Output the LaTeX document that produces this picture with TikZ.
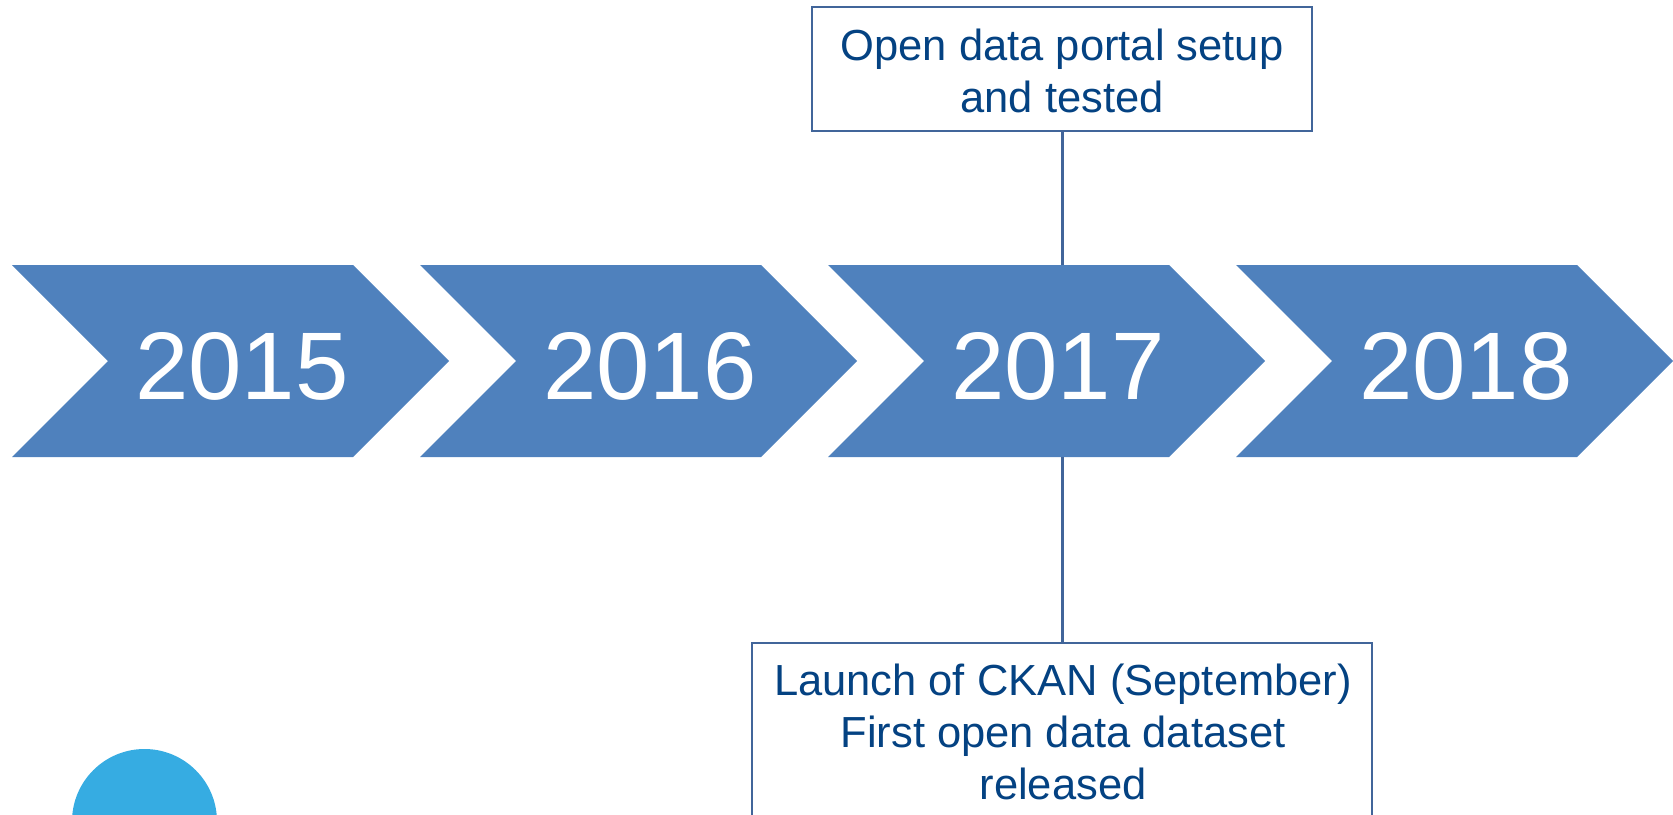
\documentclass[tikz,border=0pt]{standalone}
\usepackage{fontspec}
\setmainfont{Liberation Sans}
\definecolor{chev}{HTML}{4F81BD}
\definecolor{edge}{HTML}{41659A}
\definecolor{txt}{RGB}{4,66,130}
\definecolor{dot}{HTML}{36ACE2}
\tikzset{
  chevron/.style={fill=chev, draw=none},
  year/.style={text=white, font=\fontsize{96}{110}\selectfont, anchor=base, inner sep=0pt},
  eventframe/.style={draw=edge, line width=2.8pt, fill=white},
  eventtext/.style={text=txt, align=center, inner sep=0pt},
  link/.style={draw=edge, line width=3pt}
}
\begin{document}
\begin{tikzpicture}[x=1pt,y=-1pt]
\useasboundingbox (0,0) rectangle (1673,814);
\clip (0,0) rectangle (1673,814);
% chevrons
\foreach \L/\yr/\nm in {12/2015/ya,420/2016/yb,828/2017/yc,1236/2018/yd}{
  \fill[chevron] (\L,265) -- (\L+341,265) -- (\L+437,361) -- (\L+341,457) -- (\L,457) -- (\L+96,361) -- cycle;
  \node[year] (\nm) at (\L+230,399) {\yr};
}
\coordinate (ctop) at (1062,265);
\coordinate (cbot) at (1062,457);
% top event box
\draw[eventframe] (812,7) rectangle (1312,131);
\node[eventtext, font=\fontsize{43.5}{52}\selectfont] (topt) at (1062,70.5)
  {Open data portal setup\\and tested};
\coordinate (topb) at (1062,131);
% bottom event box
\draw[eventframe] (752,643) rectangle (1372,850);
\node[eventtext, font=\fontsize{43.5}{52}\selectfont] (bott) at (1063,732)
  {Launch of CKAN (September)\\First open data dataset\\released};
\coordinate (bbt) at (1062,643);
% connectors
\draw[link] (topb) -- (ctop);
\draw[link] (cbot) -- (bbt);
% circle
\fill[dot] (144.5,821.5) circle (72.5);
\end{tikzpicture}
\end{document}
